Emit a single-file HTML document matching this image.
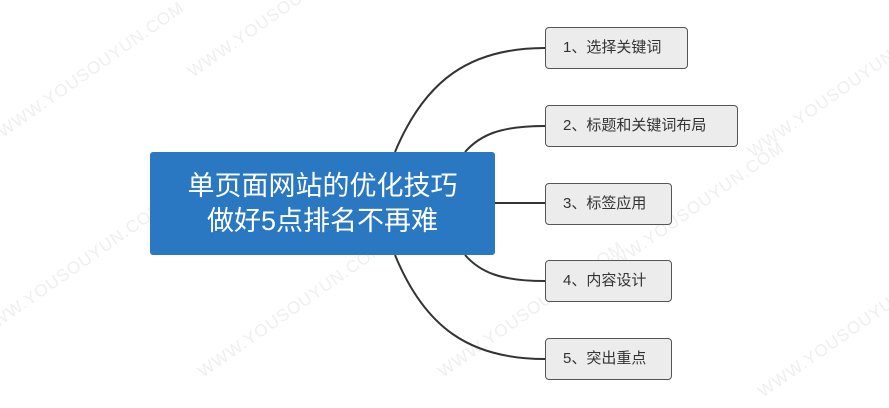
<!DOCTYPE html>
<html><head><meta charset="utf-8"><style>
body{margin:0;width:889px;height:408px;background:#fff;position:relative;overflow:hidden;font-family:"Liberation Sans","Noto Sans CJK SC",sans-serif}
.wm{position:absolute;color:#efefef;font-size:17px;transform:rotate(-35deg);white-space:nowrap;letter-spacing:1px}
.c{position:absolute;left:150px;top:152px;width:345px;height:103px;background:#2b78c2;border-radius:3px;color:#fff;font-size:27px;line-height:35px;text-align:center;display:flex;align-items:center;justify-content:center}
.n{position:absolute;left:545px;height:40px;border:1px solid #555;border-radius:4px;background:#ececec;color:#333;font-size:15px;line-height:40px;box-sizing:content-box;padding-left:17px}
svg{position:absolute;left:0;top:0}
</style></head><body>
<div class="wm" style="left:-20px;top:60px">WWW.YOUSOUYUN.COM</div>
<div class="wm" style="left:170px;top:0px">WWW.YOUSOUYUN.COM</div>
<div class="wm" style="left:-40px;top:260px">WWW.YOUSOUYUN.COM</div>
<div class="wm" style="left:180px;top:300px">WWW.YOUSOUYUN.COM</div>
<div class="wm" style="left:420px;top:300px">WWW.YOUSOUYUN.COM</div>
<div class="wm" style="left:580px;top:200px">WWW.YOUSOUYUN.COM</div>
<div class="wm" style="left:730px;top:80px">WWW.YOUSOUYUN.COM</div>
<div class="wm" style="left:740px;top:320px">WWW.YOUSOUYUN.COM</div>
<svg width="889" height="408"><g fill="none" stroke="#333" stroke-width="2">
<path d="M395 152 C425 80 470 48 545 48"/>
<path d="M465 152 C480 135 500 126 545 126"/>
<path d="M495 203 L545 203"/>
<path d="M465 255 C480 272 500 281 545 281"/>
<path d="M395 255 C425 328 470 359 545 359"/>
</g></svg>
<div class="c"><div>单页面网站的优化技巧<br>做好5点排名不再难</div></div>
<div class="n" style="top:27px;width:124px">1、选择关键词</div>
<div class="n" style="top:105px;width:174px">2、标题和关键词布局</div>
<div class="n" style="top:183px;width:108px">3、标签应用</div>
<div class="n" style="top:260px;width:108px">4、内容设计</div>
<div class="n" style="top:338px;width:108px">5、突出重点</div>
</body></html>
